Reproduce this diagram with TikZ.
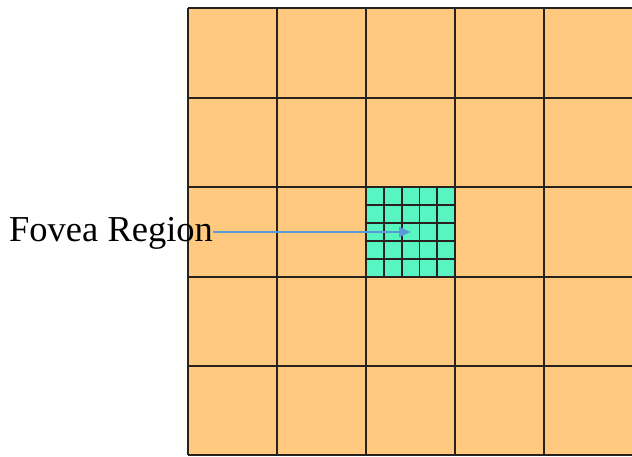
\documentclass[tikz,border=0pt]{standalone}
\usepackage{fontspec}
\setmainfont{Liberation Serif}
\usetikzlibrary{arrows.meta}
\definecolor{cellorange}{RGB}{255,202,128}
\definecolor{foveagreen}{RGB}{88,245,195}
\definecolor{arrowblue}{RGB}{91,155,213}
\definecolor{gridline}{RGB}{40,34,30}
\tikzset{
  coarse/.style={draw=gridline, line width=1.3pt},
  fine/.style={draw=gridline, line width=1.8pt},
  pointer/.style={draw=arrowblue, line width=2pt, -{Triangle[length=12pt,width=10pt]}},
  label/.style={inner sep=0pt, font=\fontsize{36.5}{42}\selectfont}
}
\begin{document}
\begin{tikzpicture}[x=1pt,y=-1pt]
\useasboundingbox (0,0) rectangle (632,456);
% coarse grid
\fill[cellorange] (188,8) rectangle (640,455);
\foreach \x in {188,277,366,455,544} \draw[coarse] (\x,8) -- (\x,455);
\foreach \y in {8,98,187,277,366,455} \draw[coarse] (188,\y) -- (640,\y);
% fovea fine grid
\fill[foveagreen] (366,187) rectangle (455,277);
\foreach \i in {0,...,5} {
  \draw[fine] (366+17.8*\i,187) -- (366+17.8*\i,277);
  \draw[fine] (366,187+18*\i) -- (455,187+18*\i);
}
% label and arrow
\node[label, anchor=base west] (lbl) at (9,241) {Fovea Region};
\coordinate (tip) at (411,232);
\draw[pointer] (lbl.east |- tip) -- (tip);
\end{tikzpicture}
\end{document}
